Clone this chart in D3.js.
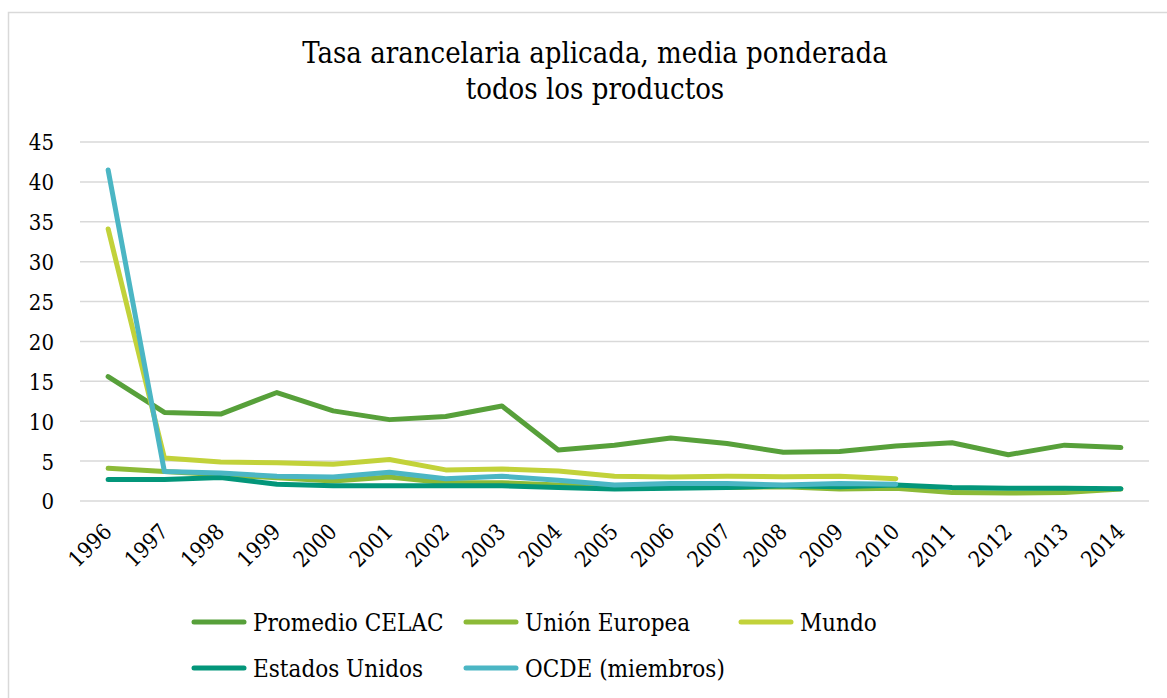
<!DOCTYPE html>
<html><head><meta charset="utf-8">
<script src="https://cdn.jsdelivr.net/npm/d3@7"></script>
<style>html,body{margin:0;padding:0;background:#fff;}svg{display:block;}</style>
</head><body>
<script>
const years = ["1996","1997","1998","1999","2000","2001","2002","2003","2004","2005","2006","2007","2008","2009","2010","2011","2012","2013","2014"];
const celac = [15.6,11.1,10.9,13.6,11.3,10.2,10.6,11.9,6.4,7.0,7.9,7.2,6.1,6.2,6.9,7.3,5.8,7.0,6.7];
const ue    = [4.1,3.7,3.3,2.9,2.5,3.0,2.3,2.3,2.0,1.8,1.7,1.7,1.8,1.5,1.6,1.05,1.0,1.05,1.5];
const mundo = [34.1,5.4,4.9,4.8,4.6,5.2,3.9,4.0,3.75,3.1,3.0,3.1,3.05,3.1,2.8,null,null,null,null];
const eeuu  = [2.7,2.7,2.95,2.1,1.9,1.9,1.9,1.9,1.7,1.5,1.6,1.7,1.9,1.8,2.0,1.7,1.6,1.6,1.55];
const ocde  = [41.5,3.7,3.5,3.1,3.0,3.6,2.8,3.1,2.6,2.0,2.2,2.2,2.0,2.2,2.1,null,null,null,null];
const seriesNames = ["Promedio CELAC","Unión Europea","Mundo","Estados Unidos","OCDE (miembros)"];
const seriesColors = ["#57a03a","#8cba37","#c2d23a","#03967a","#4bb6c4"];
const yTicks = [0,5,10,15,20,25,30,35,40,45];
const titleLines = ["Tasa arancelaria aplicada, media ponderada","todos los productos"];

const W = 1167, H = 698;
const font = "'DejaVu Serif Condensed', 'DejaVu Serif', serif";
const svg = d3.select("body").append("svg").attr("width", W).attr("height", H);
svg.append("rect").attr("x",8.5).attr("y",12.5).attr("width",1180).attr("height",700)
  .attr("fill","#fff").attr("stroke","#d9d9d9").attr("stroke-width",1.5);

const x = d3.scaleBand().domain(years).range([80,1149]);
const y = d3.scaleLinear().domain([0,45]).range([501,142]);

// gridlines
svg.append("g").selectAll("line").data(yTicks).join("line")
  .attr("x1",80).attr("x2",1149).attr("y1",d=>y(d)).attr("y2",d=>y(d))
  .attr("stroke","#d9d9d9").attr("stroke-width",1.5);

// y axis
const yAxis = d3.axisLeft(y).tickValues(yTicks).tickSize(0).tickPadding(0);
const gy = svg.append("g").attr("transform","translate(54,0)").call(yAxis);
gy.select(".domain").remove();
gy.selectAll("text").attr("font-family",font).attr("font-size",22).attr("fill","#000").attr("dy","0.36em");

// x axis
const xAxis = d3.axisBottom(x).tickSize(0).tickPadding(0);
const gx = svg.append("g").call(xAxis);
gx.select(".domain").remove();
gx.selectAll(".tick").attr("transform", d => `translate(${x(d)+x.bandwidth()/2+5},533)`);
gx.selectAll("text").attr("font-family",font).attr("font-size",22).attr("fill","#000")
  .attr("text-anchor","end").attr("dy",0).attr("y",0).attr("transform","rotate(-45)");

// title
svg.append("text").attr("text-anchor","middle")
  .attr("font-family",font).attr("font-size",29).attr("fill","#000")
  .selectAll("tspan").data(titleLines).join("tspan")
  .attr("x",595).attr("y",(d,i)=>63+i*36).text(d=>d);

// lines
const data = [celac,ue,mundo,eeuu,ocde];
const line = d3.line().defined(d=>d[1]!=null)
  .x(d=>x(d[0])+x.bandwidth()/2).y(d=>y(d[1]));
svg.append("g").selectAll("path").data(data).join("path")
  .attr("d", s => line(years.map((yr,i)=>[yr,s[i]])))
  .attr("fill","none").attr("stroke",(d,i)=>seriesColors[i])
  .attr("stroke-width",5).attr("stroke-linecap","round").attr("stroke-linejoin","round");

// legend
const legPos = [[194,622],[466,622],[741,622],[194,668],[466,668]];
const lg = svg.append("g").selectAll("g").data(seriesNames).join("g")
  .attr("transform",(d,i)=>`translate(${legPos[i][0]},${legPos[i][1]})`);
lg.append("line").attr("x1",0).attr("x2",50).attr("y1",0).attr("y2",0)
  .attr("stroke",(d,i)=>seriesColors[i]).attr("stroke-width",5).attr("stroke-linecap","round");
lg.append("text").attr("x",59).attr("y",0).attr("dy","0.36em")
  .attr("font-family",font).attr("font-size",24).attr("fill","#000").text(d=>d);
</script>
</body></html>
